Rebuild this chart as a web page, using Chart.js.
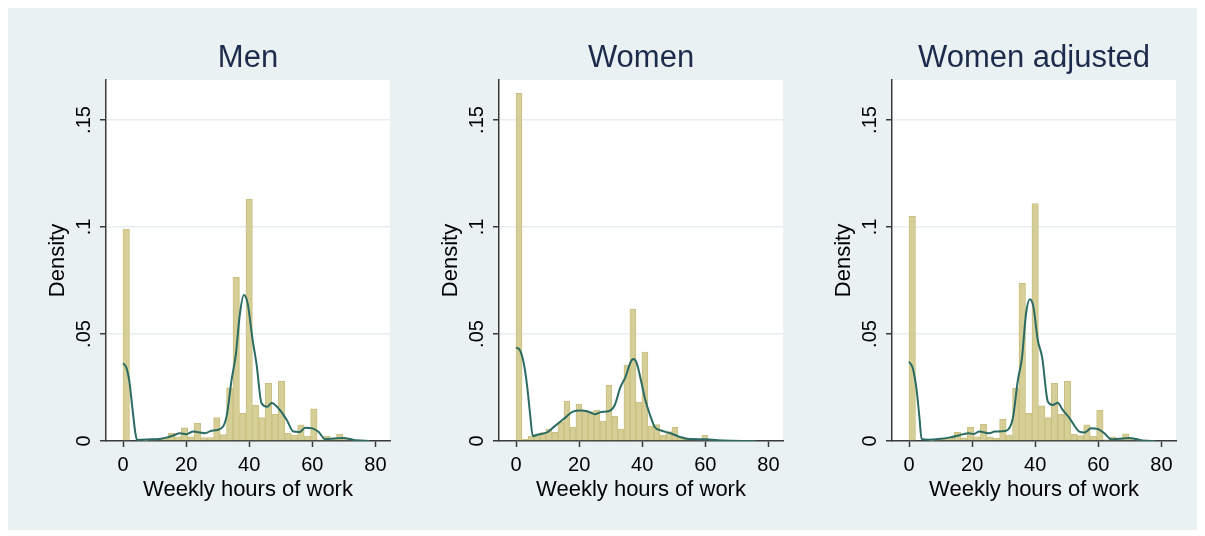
<!DOCTYPE html>
<html>
<head>
<meta charset="utf-8">
<script src="https://cdn.jsdelivr.net/npm/chart.js@4.4.1/dist/chart.umd.min.js"></script>
<style>
  body { margin: 0; background: #ffffff; width: 1205px; height: 536px; overflow: hidden; }
  #frame { position: absolute; left: 8px; top: 8px; width: 1189px; height: 522px; background: #eaf1f3; }
  canvas { position: absolute; top: 0; }
</style>
</head>
<body>
<div id="frame">
  <canvas id="men" width="393" height="522" style="left:0px"></canvas>
  <canvas id="women" width="393" height="522" style="left:393px"></canvas>
  <canvas id="womenAdj" width="393" height="522" style="left:786px"></canvas>
</div>
<script>
// histogram bin heights (density), bins start at 0
const menBinWidth = 2.05;
const menBars = [0.099, 0, 0, 0.0003, 0.0005, 0.0008, 0.0012, 0.0036, 0.002, 0.0062,
  0.002, 0.0083, 0.0016, 0.0016, 0.011, 0.003, 0.0249, 0.0765, 0.0129, 0.113,
  0.0168, 0.0109, 0.027, 0.0126, 0.028, 0.0036, 0.0028, 0.0075, 0.0023, 0.015,
  0.0006, 0.0022, 0.001, 0.0031, 0.001, 0.0005, 0, 0, 0, 0];

const womenBinWidth = 1.9;
const womenBars = [0.1625, 0.0008, 0.0023, 0.0031, 0.0039, 0.0056, 0.004, 0.009, 0.0187, 0.0065,
  0.0173, 0.0145, 0.0137, 0.0145, 0.0093, 0.026, 0.0117, 0.0056, 0.0355, 0.0617,
  0.0182, 0.0416, 0.007, 0.0077, 0.0028, 0.0044, 0.0064, 0.002, 0.0012, 0.0008,
  0.0008, 0.0026, 0.0005, 0.0003, 0.0003, 0.0002, 0.0002, 0, 0, 0];

const womenAdjBinWidth = 2.05;
const womenAdjBars = [0.105, 0, 0, 0.0003, 0.0005, 0.0008, 0.0012, 0.004, 0.0015, 0.0064,
  0.002, 0.0078, 0.0019, 0.0012, 0.0101, 0.0028, 0.0246, 0.0737, 0.0129, 0.111,
  0.0164, 0.0109, 0.027, 0.0125, 0.028, 0.0031, 0.0025, 0.0075, 0.0023, 0.0145,
  0.0005, 0.0019, 0.001, 0.0033, 0.001, 0.0005, 0, 0, 0, 0];

// kernel density estimates
const menKdeX = [0, 1, 2, 3, 4, 4.5, 8, 12, 14, 16, 18, 20, 22.3, 24.4, 26, 28, 30.7, 32.8, 34.4, 35.8,
  37, 38.3, 39.5, 41, 42.3, 43.9, 45.7, 47.1, 49.7, 51.9, 54, 56, 57.7, 60, 62, 64, 67, 70, 72, 74, 78];
const menKdeY = [0.0363, 0.0345, 0.028, 0.015, 0.003, 0.0005, 0.0007, 0.0011, 0.0017, 0.0026,
  0.0036, 0.0032, 0.0044, 0.004, 0.0036, 0.0048, 0.0055, 0.0114, 0.0285, 0.041,
  0.059, 0.0682, 0.0643, 0.048, 0.036, 0.0176, 0.016, 0.0178, 0.0145, 0.0098,
  0.0044, 0.0042, 0.0062, 0.0059, 0.0042, 0.0009, 0.0012, 0.0014, 0.0009, 0.0003, 0];

const womenKdeX = [0, 1.2, 2.5, 3.5, 4.5, 5.3, 7, 10, 12, 14, 16, 18, 20.5, 23, 25, 27, 29.5, 31.3,
  33, 34.7, 36.3, 37.2, 38.2, 39.5, 41, 42.5, 44, 46, 49, 52, 55, 60, 64, 68, 76];
const womenKdeY = [0.0437, 0.0425, 0.036, 0.026, 0.012, 0.0023, 0.003, 0.0042, 0.0066, 0.009,
  0.0114, 0.0137, 0.0142, 0.0137, 0.0125, 0.0136, 0.014, 0.0168, 0.0248, 0.030,
  0.0368, 0.0383, 0.0365, 0.029, 0.019, 0.012, 0.0064, 0.0049, 0.0036, 0.0019,
  0.0009, 0.0008, 0.0003, 0.0001, 0];

const womenAdjKdeX = [0, 1.2, 2.4, 3.3, 4, 6, 10, 13, 15, 17, 19, 20.5, 22.3, 25.5, 27.1, 30.8, 32.9,
  34.5, 35.8, 37.1, 38.3, 39.4, 40.8, 42.2, 44, 45.6, 47.1, 48.7, 50.9, 54, 55.6, 57.7, 59.8,
  61.9, 64, 66.7, 69.9, 72, 74, 78];
const womenAdjKdeY = [0.037, 0.034, 0.024, 0.011, 0.001, 0.0006, 0.001, 0.0017, 0.0023, 0.0031,
  0.0036, 0.0033, 0.0044, 0.0036, 0.0044, 0.0048, 0.0106, 0.0285, 0.039, 0.0597,
  0.0662, 0.0628, 0.0472, 0.039, 0.0184, 0.0168, 0.0179, 0.0145, 0.0106, 0.0044,
  0.004, 0.0059, 0.0056, 0.0036, 0.0008, 0.0011, 0.0014, 0.0009, 0.0002, 0];

const xTicks = [0, 20, 40, 60, 80];
const yTicks = [0, 0.05, 0.1, 0.15];
const yTickLabels = ['0', '.05', '.1', '.15'];

const FONT = "'Liberation Sans', Arial, sans-serif";

// white plot region
const plotBg = {
  id: 'plotBg',
  beforeDraw(chart) {
    const { ctx, chartArea: a } = chart;
    ctx.save();
    ctx.fillStyle = '#ffffff';
    ctx.fillRect(a.left, a.top, a.right - a.left, a.bottom - a.top);
    ctx.restore();
  }
};

function drawPanel(id, title, binWidth, bars, kdeX, kdeY) {
  const ctx = document.getElementById(id).getContext('2d');
  new Chart(ctx, {
    type: 'bar',
    data: {
      datasets: [{
        type: 'line',
        order: 0,
        data: kdeX.map((x, i) => ({ x: x, y: kdeY[i] })),
        borderColor: '#2b6b63',
        borderWidth: 2,
        pointRadius: 0,
        cubicInterpolationMode: 'monotone',
        fill: false
      }, {
        type: 'bar',
        order: 1,
        data: bars.map((v, i) => ({ x: binWidth * (i + 0.5), y: v })),
        backgroundColor: '#d5ce96',
        borderColor: '#c9c07f',
        borderWidth: 1,
        borderSkipped: 'start',
        barPercentage: 1,
        categoryPercentage: 1
      }]
    },
    options: {
      responsive: false,
      animation: false,
      events: [],
      layout: { padding: { left: 0, right: 11, top: 0, bottom: 0 } },
      plugins: {
        legend: { display: false },
        tooltip: { enabled: false },
        title: {
          display: true,
          text: title,
          fullSize: false,
          color: '#1c2b4b',
          font: { family: FONT, size: 31, weight: 'normal' },
          padding: { top: 32, bottom: 2.8 }
        }
      },
      scales: {
        x: {
          type: 'linear',
          offset: false,
          min: -5.39,
          max: 84.6,
          afterBuildTicks: s => { s.ticks = xTicks.map(v => ({ value: v })); },
          afterFit: s => { s.height = 89; },
          ticks: {
            color: '#000000',
            padding: 6,
            maxRotation: 0,
            font: { family: FONT, size: 20 }
          },
          grid: { offset: false, drawOnChartArea: false, tickLength: 6, tickColor: '#3a3a3a', tickWidth: 1.5 },
          border: { color: '#3a3a3a', width: 1.5 },
          title: {
            display: true,
            text: 'Weekly hours of work',
            color: '#000000',
            font: { family: FONT, size: 22 },
            padding: { top: 0, bottom: 26.8 }
          }
        },
        y: {
          min: 0,
          max: 0.1687,
          afterBuildTicks: s => { s.ticks = yTicks.map(v => ({ value: v })); },
          afterFit: s => { s.width = 98; },
          ticks: {
            color: '#000000',
            padding: 2,
            minRotation: 90,
            maxRotation: 90,
            crossAlign: 'center',
            font: { family: FONT, size: 20 },
            callback: (v) => yTickLabels[yTicks.indexOf(v)]
          },
          grid: {
            color: c => (c.tick && c.tick.value === 0) ? 'rgba(0,0,0,0)' : '#e6eef1',
            lineWidth: 1.5,
            tickLength: 6,
            tickColor: '#3a3a3a',
            tickWidth: 1.5
          },
          border: { color: '#3a3a3a', width: 1.5 },
          title: {
            display: true,
            text: 'Density',
            color: '#000000',
            font: { family: FONT, size: 22 },
            padding: { top: 36.8, bottom: 0 }
          }
        }
      }
    },
    plugins: [plotBg]
  });
}

drawPanel('men', 'Men', menBinWidth, menBars, menKdeX, menKdeY);
drawPanel('women', 'Women', womenBinWidth, womenBars, womenKdeX, womenKdeY);
drawPanel('womenAdj', 'Women adjusted', womenAdjBinWidth, womenAdjBars, womenAdjKdeX, womenAdjKdeY);
</script>
</body>
</html>
